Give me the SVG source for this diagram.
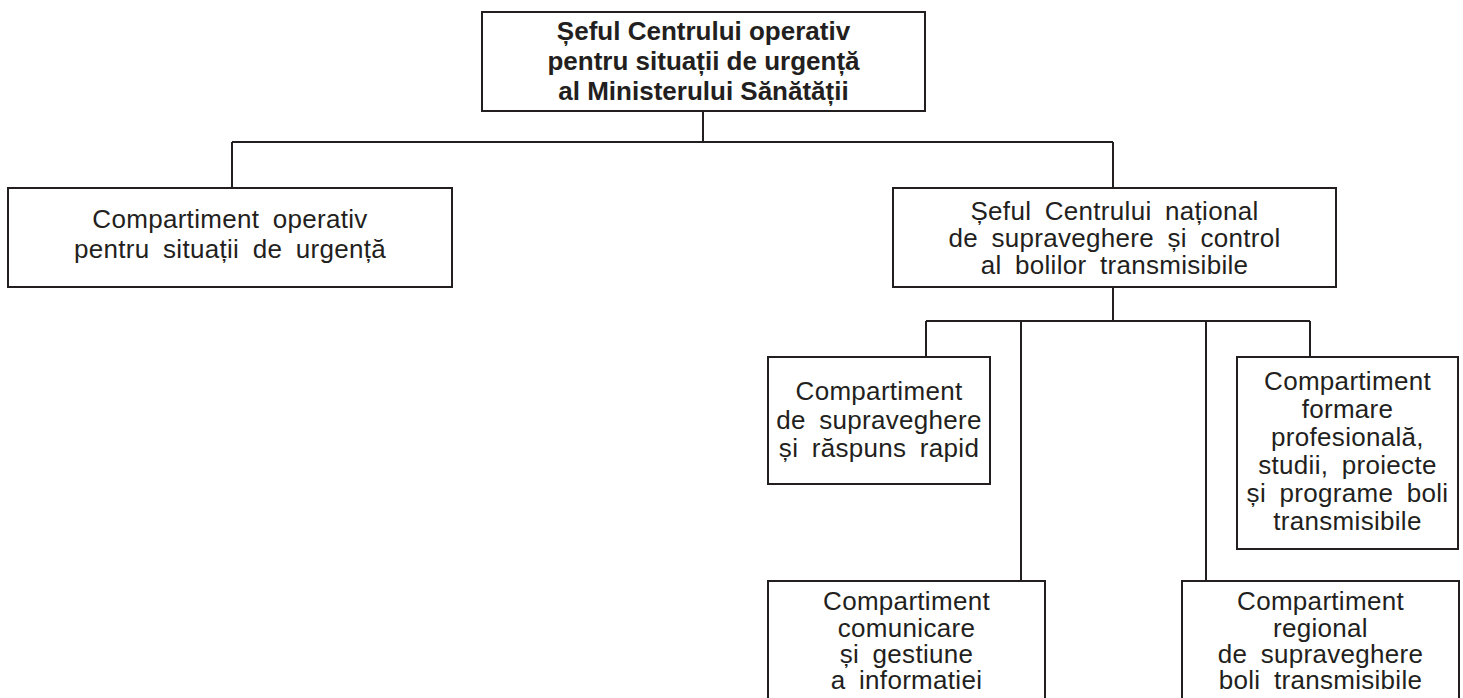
<svg xmlns="http://www.w3.org/2000/svg" width="1463" height="698" viewBox="0 0 1463 698">
<style>
.box{fill:#fff;stroke:#231f20;stroke-width:2}
.ln{fill:none;stroke:#231f20;stroke-width:2}
text{font-family:"Liberation Sans",Arial,sans-serif;font-size:26px;fill:#231f20;text-anchor:middle;word-spacing:6px;letter-spacing:0.3px}
.b{font-weight:bold;word-spacing:0;letter-spacing:0}
</style>
<rect width="1463" height="698" fill="#fff"/>
<g id="connectors">
<path class="ln" d="M703 111V142M232 142H1113M232 142V188M1113 142V188"/>
<path class="ln" d="M1113 287V321M926 321H1310M926 321V357M1021 321V581M1206 321V581M1310 321V357"/>
</g>
<g id="n_top">
<rect class="box" x="482" y="12" width="443" height="99"/>
<text class="b" x="703.5" y="40">Șeful Centrului operativ</text>
<text class="b" x="703.5" y="70">pentru situații de urgență</text>
<text class="b" x="703.5" y="100">al Ministerului Sănătății</text>
</g>
<g id="n_operativ">
<rect class="box" x="8" y="188" width="444" height="99"/>
<text x="230" y="228">Compartiment operativ</text>
<text x="230" y="258">pentru situații de urgență</text>
</g>
<g id="n_national">
<rect class="box" x="893" y="188" width="443" height="99"/>
<text x="1114.5" y="220">Șeful Centrului național</text>
<text x="1114.5" y="247">de supraveghere și control</text>
<text x="1114.5" y="274">al bolilor transmisibile</text>
</g>
<g id="n_supraveghere">
<rect class="box" x="768" y="357" width="222" height="127"/>
<text x="879" y="400">Compartiment</text>
<text x="879" y="428.5">de supraveghere</text>
<text x="879" y="457">și răspuns rapid</text>
</g>
<g id="n_formare">
<rect class="box" x="1237" y="357" width="221" height="192"/>
<text x="1347.5" y="390">Compartiment</text>
<text x="1347.5" y="418">formare</text>
<text x="1347.5" y="446">profesională,</text>
<text x="1347.5" y="474">studii, proiecte</text>
<text x="1347.5" y="502">și programe boli</text>
<text x="1347.5" y="530">transmisibile</text>
</g>
<g id="n_comunicare">
<rect class="box" x="768" y="581" width="277" height="130"/>
<text x="906.5" y="610">Compartiment</text>
<text x="906.5" y="636.5">comunicare</text>
<text x="906.5" y="663">și gestiune</text>
<text x="906.5" y="689">a informatiei</text>
</g>
<g id="n_regional">
<rect class="box" x="1182" y="581" width="277" height="130"/>
<text x="1320.5" y="610">Compartiment</text>
<text x="1320.5" y="636.5">regional</text>
<text x="1320.5" y="663">de supraveghere</text>
<text x="1320.5" y="689">boli transmisibile</text>
</g>
</svg>
